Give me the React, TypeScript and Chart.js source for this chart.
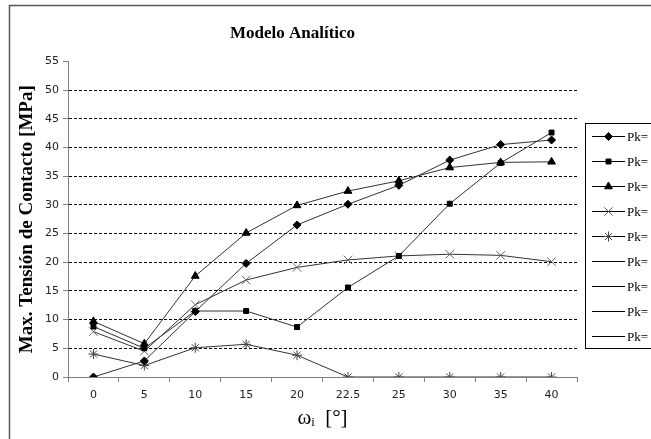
import React, { useEffect, useRef } from 'react';
import { Chart, registerables } from 'chart.js';
import { drawPoint } from 'chart.js/helpers';

Chart.register(...registerables);

const categories = ['0', '5', '10', '15', '20', '22.5', '25', '30', '35', '40'];
const seriesLabels = ['Pk=', 'Pk=', 'Pk=', 'Pk=', 'Pk=', 'Pk=', 'Pk=', 'Pk=', 'Pk='];
const diamondValues = [0, 2.8, 11.4, 19.8, 26.5, 30.1, 33.4, 37.8, 40.5, 41.3];
const squareValues = [8.8, 5.0, 11.5, 11.5, 8.7, 15.6, 21.1, 30.2, 37.3, 42.6];
const triangleValues = [9.7, 5.8, 17.6, 25.1, 29.9, 32.4, 34.2, 36.5, 37.4, 37.5];
const crossValues = [7.9, 4.5, 12.6, 16.9, 19.1, 20.4, 21.1, 21.4, 21.2, 20.1];
const starValues = [4.0, 2.0, 5.1, 5.7, 3.8, 0, 0, 0, 0, 0];
const emptyValues: (number | null)[] = [];
const yMin = 0;
const yMax = 55;
const yStep = 5;

const chartTitle = 'Modelo Analítico';
const yTitle = 'Max. Tensión de Contacto [MPa]';
const xTitle = 'ωᵢ  [°]';

const framePlugin = {
  id: 'frame',
  beforeDraw(chart: any) {
    const { ctx, width, height } = chart;
    ctx.save();
    ctx.fillStyle = '#fff';
    ctx.fillRect(0, 0, width, height);
    ctx.strokeStyle = '#555';
    ctx.lineWidth = 1.5;
    ctx.strokeRect(9.5, 5.5, width + 40, height + 40);
    ctx.restore();
  },
  afterDraw(chart: any) {
    const { ctx } = chart;
    const x0 = 585.5;
    const y0 = 123.5;
    const h = 225;
    ctx.save();
    ctx.strokeStyle = '#000';
    ctx.lineWidth = 1;
    ctx.strokeRect(x0, y0, 200, h);
    ctx.font = '13px "Liberation Serif"';
    ctx.textBaseline = 'middle';
    ctx.textAlign = 'left';
    chart.data.datasets.forEach((ds: any, i: number) => {
      const y = Math.round(y0 + 12 + i * 25.1) + 0.5;
      ctx.strokeStyle = '#000';
      ctx.lineWidth = 1;
      ctx.beginPath();
      ctx.moveTo(592, y);
      ctx.lineTo(625, y);
      ctx.stroke();
      if (ds.pointRadius > 0) {
        ctx.fillStyle = ds.pointBackgroundColor;
        ctx.strokeStyle = ds.pointBorderColor;
        drawPoint(ctx, { pointStyle: ds.pointStyle, rotation: 0, radius: ds.pointRadius, borderWidth: 1 } as any, 608.5, y);
      }
      ctx.fillStyle = '#000';
      ctx.fillText(ds.label, 627, y + 1);
    });
    ctx.restore();
  },
};

function makeSeries(label: string, data: (number | null)[], pointStyle: any, radius: number, pointColor: string) {
  return {
    label,
    data,
    borderColor: '#333',
    borderWidth: 1,
    pointStyle,
    pointRadius: radius,
    pointBackgroundColor: pointColor,
    pointBorderColor: pointColor,
    pointBorderWidth: 1,
    tension: 0,
    fill: false,
  };
}

export default function App() {
  const ref = useRef<HTMLCanvasElement>(null);
  useEffect(() => {
    if (!ref.current) return;
    const chart = new Chart(ref.current, {
      type: 'line',
      data: {
        labels: categories,
        datasets: [
          makeSeries(seriesLabels[0], diamondValues, 'rectRot', 4, '#000'),
          makeSeries(seriesLabels[1], squareValues, 'rect', 3.5, '#000'),
          makeSeries(seriesLabels[2], triangleValues, 'triangle', 4.5, '#000'),
          makeSeries(seriesLabels[3], crossValues, 'crossRot', 6, '#666'),
          makeSeries(seriesLabels[4], starValues, 'star', 5, '#444'),
          makeSeries(seriesLabels[5], emptyValues, 'circle', 0, '#000'),
          makeSeries(seriesLabels[6], emptyValues, 'circle', 0, '#000'),
          makeSeries(seriesLabels[7], emptyValues, 'circle', 0, '#000'),
          makeSeries(seriesLabels[8], emptyValues, 'circle', 0, '#000'),
        ],
      },
      options: {
        responsive: false,
        animation: false,
        devicePixelRatio: 1,
        layout: { padding: { left: 8, right: 74, top: 0, bottom: 0 } },
        plugins: {
          legend: { display: false },
          tooltip: { enabled: false },
          title: {
            display: true,
            text: chartTitle,
            color: '#000',
            font: { family: 'Liberation Serif', size: 17, weight: 'bold' },
            padding: { top: 23, bottom: 18 },
          },
        },
        scales: {
          x: {
            offset: true,
            grid: {
              offset: true,
              drawOnChartArea: false,
              drawTicks: true,
              tickLength: 5,
              tickColor: '#808080',
              color: '#808080',
            },
            border: { display: true, color: '#808080', width: 1 },
            ticks: {
              autoSkip: false,
              maxRotation: 0,
              padding: 7,
              color: '#222',
              font: { family: 'DejaVu Sans', size: 11 },
            },
            title: {
              display: true,
              text: xTitle,
              color: '#000',
              font: { family: 'Liberation Serif', size: 21 },
              padding: { top: 0, bottom: 8 },
            },
            afterFit: (s: any) => {
              s.height = 62;
            },
          },
          y: {
            min: yMin,
            max: yMax,
            ticks: {
              stepSize: yStep,
              padding: 4,
              color: '#222',
              font: { family: 'DejaVu Sans', size: 11 },
            },
            grid: {
              color: (c: any) => (c.tick && (c.tick.value === yMax || c.tick.value === yMin) ? 'rgba(0,0,0,0)' : '#000'),
              tickColor: '#808080',
              tickLength: 5,
              lineWidth: 1,
            },
            border: { display: true, color: '#808080', width: 1, dash: [3, 2] },
            title: {
              display: true,
              text: yTitle,
              color: '#000',
              font: { family: 'Liberation Serif', size: 19, weight: 'bold' },
              padding: { top: 8, bottom: 0 },
            },
            afterFit: (s: any) => {
              s.width = 60;
            },
          },
        },
      },
      plugins: [framePlugin],
    } as any);
    return () => chart.destroy();
  }, []);
  return (
    <div style={{ position: 'fixed', left: 0, top: 0, width: 651, height: 439, overflow: 'hidden' }}>
      <canvas ref={ref} width={651} height={439} style={{ display: 'block' }} />
    </div>
  );
}
